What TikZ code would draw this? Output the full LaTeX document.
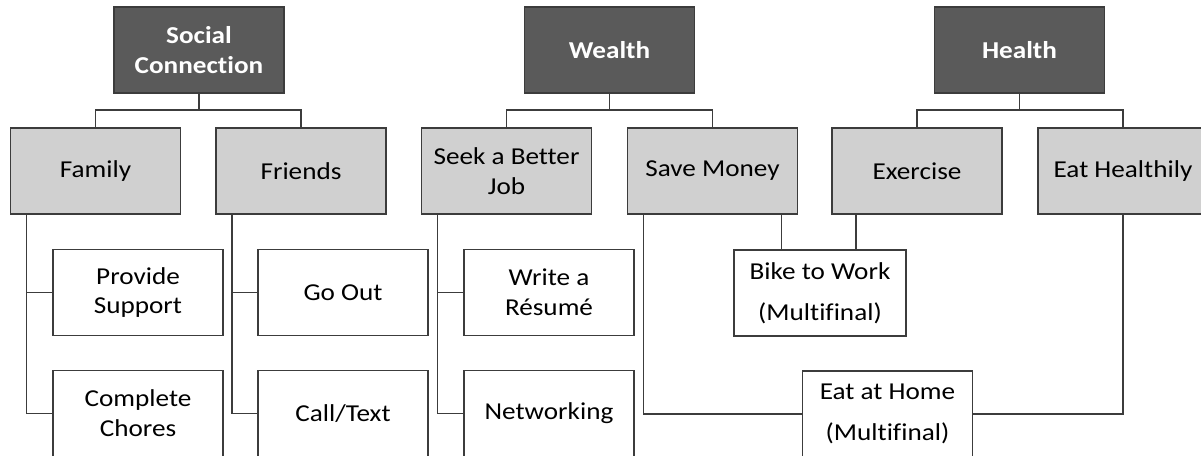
\documentclass[tikz,border=0pt]{standalone}
\usepackage{fontspec}
\setmainfont{Carlito}[FakeStretch=1.12,Ligatures=NoCommon]
\usetikzlibrary{positioning}
\definecolor{boxdark}{RGB}{90,90,90}
\definecolor{boxlight}{RGB}{208,208,208}
\definecolor{edgegray}{RGB}{60,60,60}

\begin{document}
\begin{tikzpicture}[x=0.75pt,y=0.75pt,yscale=-1,xscale=1,
  anybox/.style={draw=edgegray,line width=1.1pt,minimum width=127.5pt,minimum height=64.5pt,
    inner sep=0pt,outer sep=0pt,align=center,font=\fontsize{18.2}{22.4}\selectfont},
  topbox/.style={anybox,fill=boxdark,text=white,font=\fontsize{18.2}{22.4}\selectfont\bfseries},
  midbox/.style={anybox,fill=boxlight,text=black},
  leafbox/.style={anybox,fill=white,text=black},
  link/.style={draw=edgegray,line width=1.1pt}]
%set diagram to 1201 x 456
\path[use as bounding box] (0,0) rectangle (1201,456);

%Top row
\node[topbox] (social) at (199,50) {Social\\Connection};
\node[topbox] (wealth) at (609.5,50) {Wealth};
\node[topbox] (health) at (1019.5,50) {Health};

%Second row
\node[midbox] (family) at (95.5,171) {Family};
\node[midbox] (friends) at (301,171) {Friends};
\node[midbox] (job) at (506.5,171) {Seek a Better\\Job};
\node[midbox] (save) at (712.5,171) {Save Money};
\node[midbox] (exercise) at (917,171) {Exercise};
\node[midbox] (eathealth) at (1123,171) {Eat Healthily};

%Leaves
\node[leafbox] (support) at (138,292.5) {Provide\\Support};
\node[leafbox] (chores) at (138,413.5) {Complete\\Chores};
\node[leafbox] (goout) at (343,292.5) {Go Out};
\node[leafbox] (call) at (343,413.5) {Call/Text};
\node[leafbox] (resume) at (549,292.5) {Write a\\Résumé};
\node[leafbox] (network) at (549,413.5) {Networking};
\node[leafbox,minimum width=129pt] (bike) at (820,293) {Bike to Work\\[8pt](Multifinal)};
\node[leafbox] (home) at (887.5,414) {Eat at Home\\[8pt](Multifinal)};

%Tree lines from the top row
\draw[link] (social.south) -- ++(0,17) -| (family.north);
\draw[link] (social.south) -- ++(0,17) -| (friends.north);
\draw[link] (wealth.south) -- ++(0,17) -| (job.north);
\draw[link] (wealth.south) -- ++(0,17) -| (save.north);
\draw[link] (health.south) -- ++(0,17) -| (exercise.north);
\draw[link] (health.south) -- ++(0,17) -| (eathealth.north);

%Side rails down to the leaves
\draw[link] (family.south west) ++(16,0) |- (support.west);
\draw[link] (family.south west) ++(16,0) |- (chores.west);
\draw[link] (friends.south west) ++(16,0) |- (goout.west);
\draw[link] (friends.south west) ++(16,0) |- (call.west);
\draw[link] (job.south west) ++(16,0) |- (resume.west);
\draw[link] (job.south west) ++(16,0) |- (network.west);

%Multifinal links
\coordinate (savedrop) at ([xshift=-12pt]save.south east);
\coordinate (exdrop) at ([xshift=18pt]exercise.south west);
\draw[link] (savedrop) -- (savedrop |- bike.north);
\draw[link] (exdrop) -- (exdrop |- bike.north);
\draw[link] (save.south west) ++(16,0) |- (home.west);
\draw[link] (eathealth.south) |- (home.east);

\end{tikzpicture}
\end{document}
